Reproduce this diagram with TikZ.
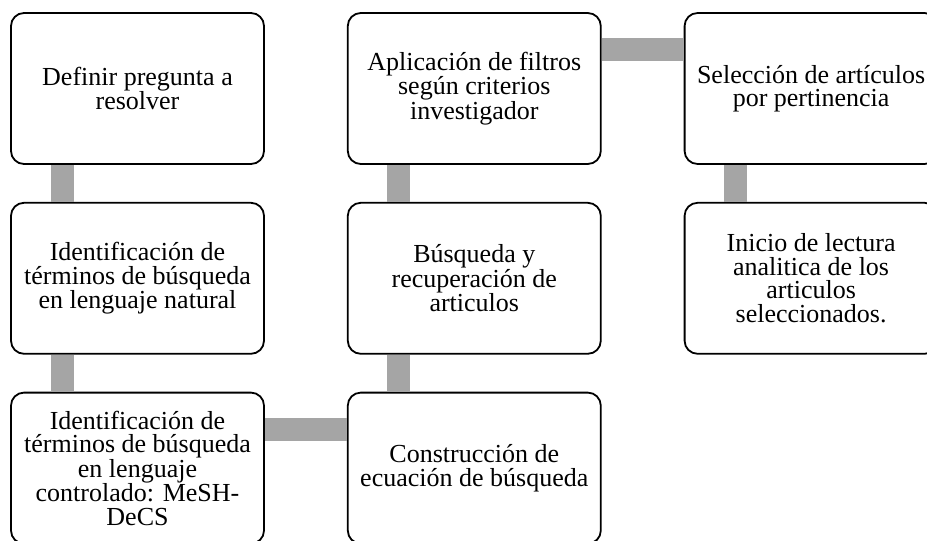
\documentclass[tikz,border=0pt]{standalone}
\usepackage{fontspec}
\setmainfont{Liberation Serif}
\usepackage{tikz}
\usetikzlibrary{positioning}
\definecolor{bargray}{HTML}{A5A5A5}
\tikzstyle{stepbox} = [rectangle, rounded corners=13pt, minimum width=253pt, minimum height=151pt, text centered, align=center, draw=black, line width=1.8pt, fill=white, font=\fontsize{26}{23.5}\selectfont]
\tikzstyle{bar} = [line width=23pt, draw=bargray]

\begin{document}
\begin{tikzpicture}[node distance=37pt and 82pt]
\useasboundingbox (0,0) rectangle (927pt,-541pt);
\clip (0,0) rectangle (927pt,-541pt);
\node (def) [stepbox] at (137.5pt,-88.5pt) {Definir pregunta a\\resolver};
\node (nat) [stepbox, below=of def] {Identificación de\\términos de búsqueda\\en lenguaje natural};
\node (ctl) [stepbox, below=of nat] {Identificación de\\términos de búsqueda\\en lenguaje\\controlado: MeSH-\\DeCS};
\node (ecu) [stepbox, right=of ctl] {Construcción de\\ecuación de búsqueda};
\node (bus) [stepbox, above=of ecu] {Búsqueda y\\recuperación de\\articulos};
\node (fil) [stepbox, above=of bus] {Aplicación de filtros\\según criterios\\investigador};
\node (sel) [stepbox, right=of fil] {Selección de artículos\\por pertinencia};
\node (lec) [stepbox, below=of sel] {Inicio de lectura\\analitica de los\\articulos\\seleccionados.};
\draw [bar] ([xshift=52pt]def.south west) -- ([xshift=52pt]nat.north west);
\draw [bar] ([xshift=52pt]nat.south west) -- ([xshift=52pt]ctl.north west);
\draw [bar] ([yshift=-37.5pt]ctl.north east) -- ([yshift=-37.5pt]ecu.north west);
\draw [bar] ([xshift=52pt]ecu.north west) -- ([xshift=52pt]bus.south west);
\draw [bar] ([xshift=52pt]bus.north west) -- ([xshift=52pt]fil.south west);
\draw [bar] ([yshift=-37.5pt]fil.north east) -- ([yshift=-37.5pt]sel.north west);
\draw [bar] ([xshift=52pt]sel.south west) -- ([xshift=52pt]lec.north west);
\end{tikzpicture}
\end{document}
